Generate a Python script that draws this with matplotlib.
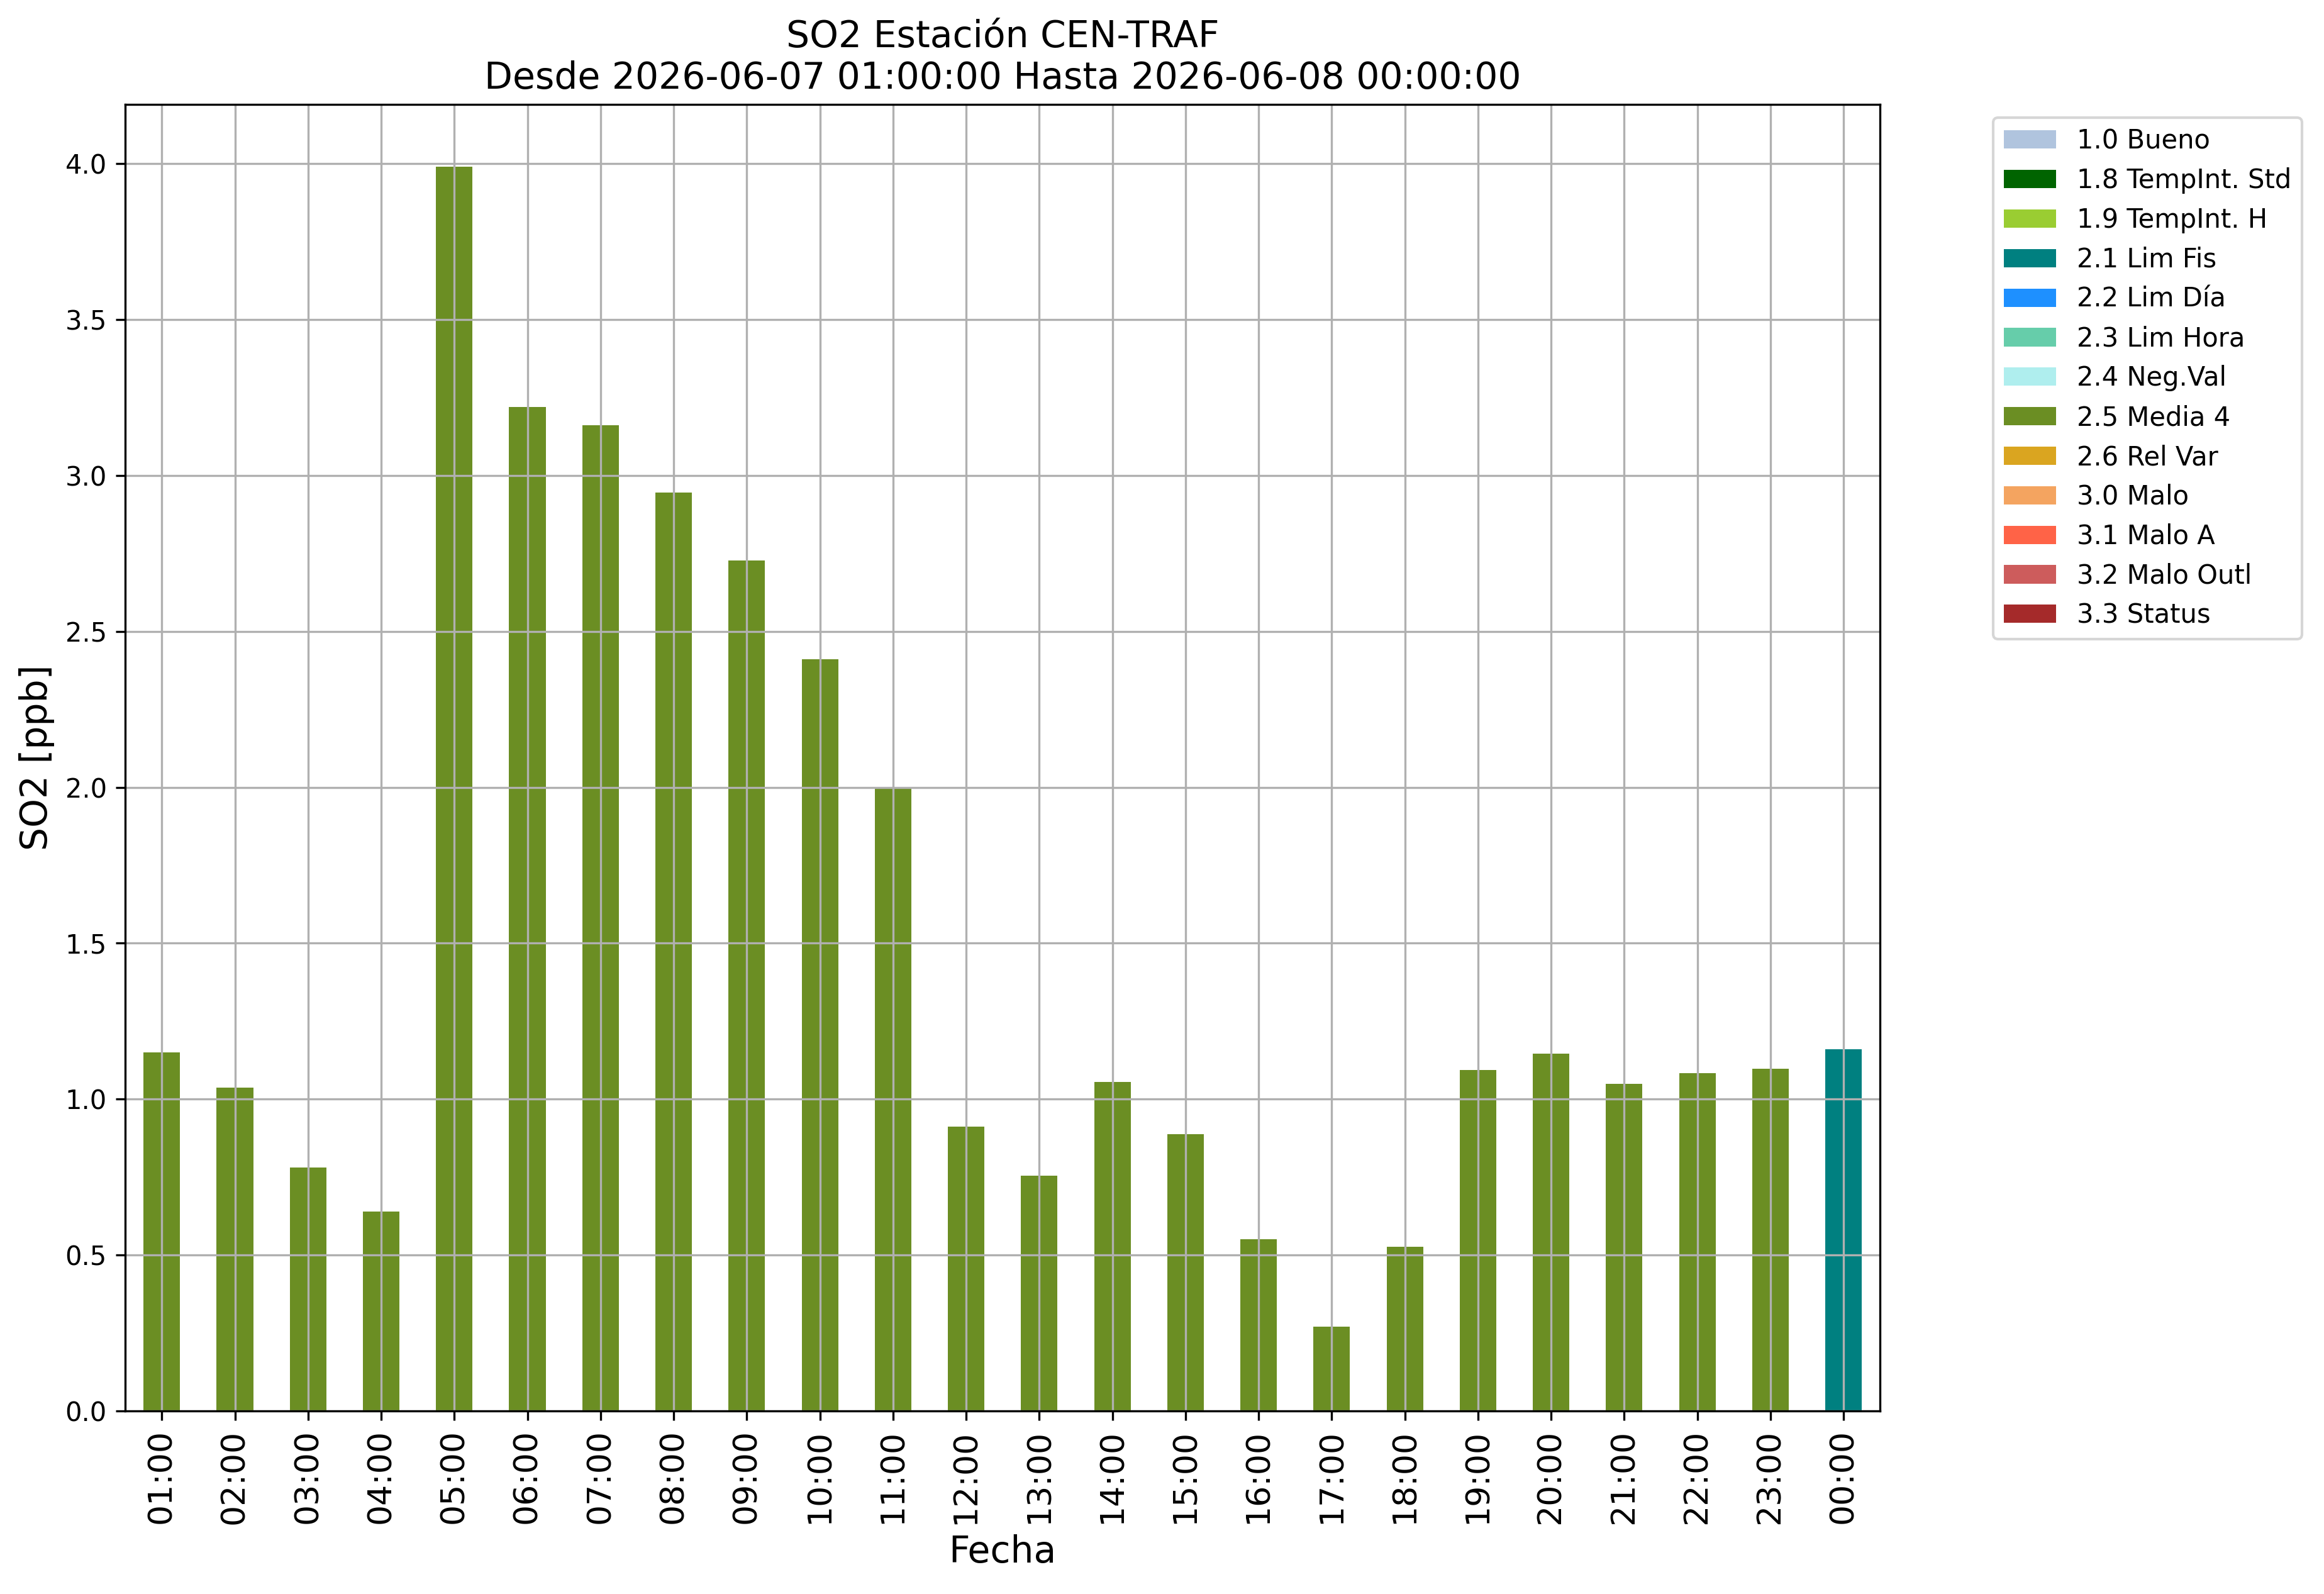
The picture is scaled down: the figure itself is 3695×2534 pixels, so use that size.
import matplotlib
matplotlib.use("Agg")
import matplotlib.pyplot as plt
import numpy as np

# horas del periodo y valores horarios de SO2 [ppb]
horas = ["01:00", "02:00", "03:00", "04:00", "05:00", "06:00", "07:00", "08:00",
         "09:00", "10:00", "11:00", "12:00", "13:00", "14:00", "15:00", "16:00",
         "17:00", "18:00", "19:00", "20:00", "21:00", "22:00", "23:00", "00:00"]
so2 = [1.15, 1.036, 0.78, 0.64, 3.99, 3.22, 3.16, 2.945, 2.727, 2.41, 2.0, 0.912,
       0.755, 1.055, 0.888, 0.551, 0.27, 0.527, 1.093, 1.145, 1.05, 1.083, 1.097, 1.159]
# bandera de calidad de cada hora
flags = ["2.5 Media 4"] * 23 + ["2.1 Lim Fis"]

flag_names = ["1.0 Bueno", "1.8 TempInt. Std", "1.9 TempInt. H", "2.1 Lim Fis",
              "2.2 Lim Día", "2.3 Lim Hora", "2.4 Neg.Val", "2.5 Media 4",
              "2.6 Rel Var", "3.0 Malo", "3.1 Malo A", "3.2 Malo Outl", "3.3 Status"]
flag_colors = ["lightsteelblue", "darkgreen", "yellowgreen", "teal", "dodgerblue",
               "mediumaquamarine", "paleturquoise", "olivedrab", "goldenrod",
               "sandybrown", "tomato", "indianred", "brown"]

fig = plt.figure(figsize=(3695 / 300, 2534 / 300), dpi=300)
ax = fig.add_axes([0.0539, 0.1148, 0.809 - 0.0539, 0.9345 - 0.1148])

x = np.arange(len(horas))
values = np.array(so2)
bottom = np.zeros(len(horas))
for name, color in zip(flag_names, flag_colors):
    serie = np.where(np.array(flags) == name, values, 0.0)
    ax.bar(x, serie, width=0.5, bottom=bottom, color=color, label=name)
    bottom += serie

# las barras de altura cero fijan el limite, se pone a mano el margen del 5%
ax.set_ylim(0, values.max() * 1.05)
ax.set_xlim(-0.5, len(horas) - 0.5)
ax.set_xticks(x)
ax.set_xticklabels(horas, rotation=90, fontsize=12.5)
ax.tick_params(axis="y", labelsize=10)
ax.grid(True)
ax.set_xlabel("Fecha", fontsize=14)
ax.set_ylabel("SO2 [ppb]", fontsize=14)
ax.set_title("SO2 Estación CEN-TRAF\nDesde 2026-06-07 01:00:00 Hasta 2026-06-08 00:00:00",
             fontsize=14)
ax.legend(bbox_to_anchor=(1.057, 1), loc="upper left", fontsize=10)

fig.savefig("out.png", dpi=300)
